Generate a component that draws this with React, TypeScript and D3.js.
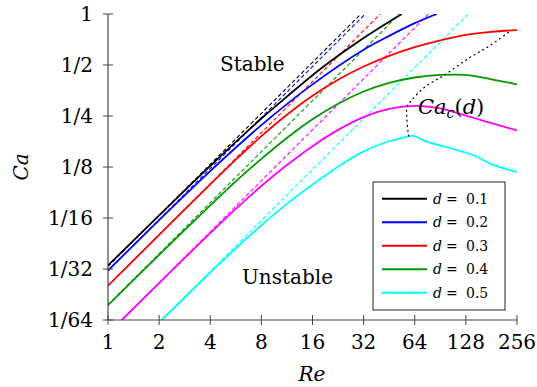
import React from "react";
import * as d3 from "d3";

// solid curves, [Re, Ca]
const curveBlack: [number, number][] = [
  [1, 0.0328], [2, 0.0647], [4, 0.1268], [8, 0.2415], [11.31, 0.3253],
  [16, 0.4353], [22.63, 0.5664], [32, 0.7221], [45.25, 0.9013], [53.8, 1],
];
const curveBlue: [number, number][] = [
  [1, 0.0306], [2, 0.0608], [4, 0.1183], [8, 0.2207], [16, 0.3842],
  [32, 0.6156], [45.25, 0.7424], [64, 0.8827], [86.2, 1],
];
const curveRed: [number, number][] = [
  [1, 0.0249], [2, 0.0497], [4, 0.0988], [5.657, 0.1382], [8, 0.1901],
  [11.31, 0.2544], [16, 0.3288], [22.63, 0.409], [32, 0.4897], [45.25, 0.5664],
  [64, 0.6373], [90.51, 0.6998], [128, 0.7526], [181, 0.7846], [256, 0.8039],
];
const curveGreen: [number, number][] = [
  [1, 0.0191], [2, 0.0379], [4, 0.0743], [5.657, 0.1029], [8, 0.1397],
  [11.31, 0.1856], [16, 0.239], [22.63, 0.2952], [32, 0.3487], [45.25, 0.3923],
  [64, 0.4219], [90.51, 0.4368], [128, 0.4368], [181, 0.4118], [256, 0.3842],
];
const curveMagenta: [number, number][] = [
  [1.206, 0.015625], [2, 0.0258], [4, 0.0509], [5.657, 0.0707], [8, 0.0966],
  [11.31, 0.1283], [16, 0.1659], [22.63, 0.207], [32, 0.2462], [45.25, 0.2751],
  [64, 0.2868], [90.51, 0.277], [128, 0.2514], [181, 0.2266], [256, 0.2056],
];
const curveCyan: [number, number][] = [
  [2.071, 0.015625], [4, 0.0298], [5.657, 0.0414], [8, 0.0566], [11.31, 0.0757],
  [16, 0.0985], [22.63, 0.1255], [32, 0.1545], [45.25, 0.1774], [53.82, 0.1856],
  [62.68, 0.1908], [73.52, 0.1775], [101.1, 0.1627], [128, 0.1518], [145.0, 0.1456],
  [182.3, 0.1294], [256, 0.1166],
];

// low-Re asymptotes Ca = k * Re
const slopeK = [0.0324, 0.0306, 0.0249, 0.01924, 0.01296, 0.007546];

// critical capillary number locus
const criticalCa: [number, number][] = [
  [58.9, 0.19], [57.7, 0.2832], [61.4, 0.3099], [73.5, 0.3712], [94.4, 0.4323],
  [132.5, 0.5471], [173.6, 0.6417], [233.9, 0.795],
];

const colors = ["#000000", "#0000ff", "#ff0000", "#009a00", "#ff00ff", "#00ffff"];
const curves = [curveBlack, curveBlue, curveRed, curveGreen, curveMagenta, curveCyan];

const legendLabels = ["0.1", "0.2", "0.3", "0.4", "0.5"];
const legendColors = ["#000000", "#0000ff", "#ff0000", "#009a00", "#00ffff"];

const xTicks = [1, 2, 4, 8, 16, 32, 64, 128, 256];
const xTickLabels = ["1", "2", "4", "8", "16", "32", "64", "128", "256"];
const yTicks = [1 / 64, 1 / 32, 1 / 16, 1 / 8, 1 / 4, 1 / 2, 1];
const yTickLabels = ["1/64", "1/32", "1/16", "1/8", "1/4", "1/2", "1"];

const W = 537;
const H = 387;
const FONT = "'DejaVu Serif', serif";

export default function App() {
  const x = d3.scaleLog().base(2).domain([1, 256]).range([108, 517]);
  const y = d3.scaleLog().base(2).domain([1 / 64, 1]).range([320, 14]);

  const line = d3
    .line<[number, number]>()
    .x(d => x(d[0]))
    .y(d => y(d[1]))
    .curve(d3.curveCatmullRom.alpha(0.5));

  const straight = d3
    .line<[number, number]>()
    .x(d => x(d[0]))
    .y(d => y(d[1]));

  const dashed = slopeK.map(k => {
    const r0 = Math.max(1, 1 / 64 / k);
    const r1 = Math.min(256, 1 / k);
    return [[r0, k * r0], [r1, k * r1]] as [number, number][];
  });

  const [x0, x1] = x.range();
  const [y0, y1] = y.range();

  return (
    <svg
      width={W}
      height={H}
      style={{ position: "absolute", left: 0, top: 0, background: "#fff" }}
      fontFamily={FONT}
    >
      <defs>
        <clipPath id="plot">
          <rect x={x0} y={y1} width={x1 - x0} height={y0 - y1} />
        </clipPath>
      </defs>

      <g clipPath="url(#plot)" fill="none">
        {dashed.map((d, i) => (
          <path key={"d" + i} d={straight(d) || ""} stroke={colors[i]} strokeWidth={1.1} strokeDasharray="4,2.5" />
        ))}
        {curves.map((c, i) => (
          <path key={"c" + i} d={line(c) || ""} stroke={colors[i]} strokeWidth={1.8} />
        ))}
        <path d={line(criticalCa) || ""} stroke="#000" strokeWidth={1.2} strokeDasharray="1,4" strokeLinecap="round" />
      </g>

      {/* axes */}
      <line x1={x0} x2={x0} y1={y1} y2={y0} stroke="#222" strokeWidth={1} />
      <line x1={x0} x2={x1} y1={y0} y2={y0} stroke="#444" strokeWidth={1} />
      {xTicks.map((t, i) => (
        <g key={"xt" + i}>
          <line x1={x(t)} x2={x(t)} y1={y0 - 5} y2={y0 + 5} stroke="#444" strokeWidth={1} />
          <text x={x(t)} y={349} textAnchor="middle" fontSize={20}>
            {xTickLabels[i]}
          </text>
        </g>
      ))}
      {yTicks.map((t, i) => (
        <g key={"yt" + i}>
          <line x1={x0 - 5} x2={x0 + 5} y1={y(t)} y2={y(t)} stroke="#444" strokeWidth={1} />
          <text x={93} y={y(t) + 7} textAnchor="end" fontSize={20}>
            {yTickLabels[i]}
          </text>
        </g>
      ))}

      <text x={312} y={381} textAnchor="middle" fontSize={20} fontStyle="italic">
        Re
      </text>
      <text transform="translate(28,167) rotate(-90)" textAnchor="middle" fontSize={20} fontStyle="italic">
        Ca
      </text>

      <text x={220} y={71} fontSize={20}>Stable</text>
      <text x={242} y={284} fontSize={20}>Unstable</text>
      <text x={418} y={114} fontSize={21}>
        <tspan fontStyle="italic">Ca</tspan>
        <tspan fontStyle="italic" fontSize={14} dy={4}>c</tspan>
        <tspan dy={-4}>(</tspan>
        <tspan fontStyle="italic">d</tspan>
        <tspan>)</tspan>
      </text>

      {/* legend */}
      <g>
        <rect x={373} y={182} width={132} height={128} fill="#fff" stroke="#222" strokeWidth={1} />
        {legendLabels.map((lab, i) => {
          const ry = 198.7 + i * 23.5;
          return (
            <g key={"lg" + i}>
              <line x1={382} x2={427} y1={ry} y2={ry} stroke={legendColors[i]} strokeWidth={2} />
              <text x={433} y={ry + 5} fontSize={14} fontStyle="italic">d</text>
              <text x={446} y={ry + 5} fontSize={14}>=</text>
              <text x={466} y={ry + 5} fontSize={14}>{lab}</text>
            </g>
          );
        })}
      </g>
    </svg>
  );
}
